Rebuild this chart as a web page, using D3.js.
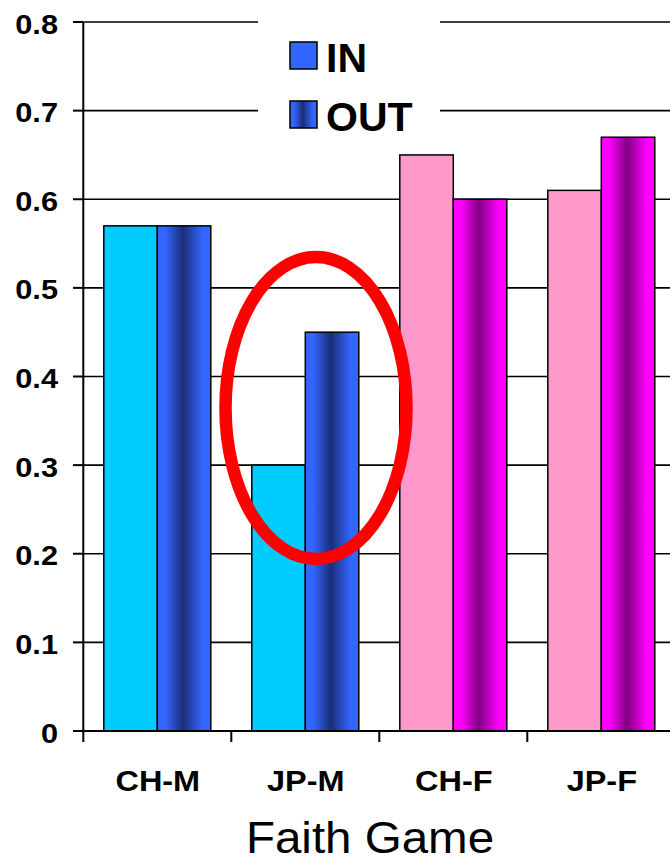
<!DOCTYPE html>
<html><head><meta charset="utf-8">
<script src="https://cdn.jsdelivr.net/npm/d3@7/dist/d3.min.js"></script>
<style>html,body{margin:0;padding:0;background:#fff;overflow:hidden}svg{display:block}</style>
</head><body>
<svg id="c" width="670" height="863"></svg>
<script>
const categories = ["CH-M", "JP-M", "CH-F", "JP-F"];
const seriesNames = ["IN", "OUT"];
const inValues = [0.57, 0.30, 0.65, 0.61];
const outValues = [0.57, 0.45, 0.60, 0.67];
const yTicks = [0, 0.1, 0.2, 0.3, 0.4, 0.5, 0.6, 0.7, 0.8];
const yTickLabels = ["0", "0.1", "0.2", "0.3", "0.4", "0.5", "0.6", "0.7", "0.8"];
const xTitle = "Faith Game";

const svg = d3.select("#c");
const font = "Liberation Sans, Arial, Helvetica, sans-serif";

const y = d3.scaleLinear().domain([0, 0.8]).range([731, 22]);
const x0 = d3.scaleBand().domain(categories).range([83.3, 675.3]).padding(0);
const x1 = d3.scaleBand().domain(seriesNames).range([20.5, 127.5]).padding(0);

const defs = svg.append("defs");
function grad(id, edge, mid) {
  const g = defs.append("linearGradient").attr("id", id).attr("x1", "0%").attr("x2", "100%").attr("y1", "0%").attr("y2", "0%");
  g.append("stop").attr("offset", "0%").attr("stop-color", edge);
  g.append("stop").attr("offset", "15%").attr("stop-color", edge);
  g.append("stop").attr("offset", "48%").attr("stop-color", mid);
  g.append("stop").attr("offset", "85%").attr("stop-color", edge);
  g.append("stop").attr("offset", "100%").attr("stop-color", edge);
}
grad("gBlue", "#3366ff", "#1a2d78");
grad("gMag", "#ff00ff", "#800080");

// gridlines
svg.append("g").selectAll("line").data(yTicks.slice(1)).join("line")
  .attr("x1", 83.3).attr("x2", 670).attr("y1", d => y(d)).attr("y2", d => y(d))
  .attr("stroke", "#000").attr("stroke-width", 1.6);

// bars
const isFemale = c => c.endsWith("F");
const rows = categories.map((c, i) => ({c, vals: [{s: "IN", v: inValues[i]}, {s: "OUT", v: outValues[i]}]}));
const gb = svg.append("g").selectAll("g").data(rows).join("g")
  .attr("transform", d => `translate(${x0(d.c)},0)`);
gb.selectAll("rect").data(d => d.vals.map(o => ({...o, c: d.c}))).join("rect")
  .attr("x", d => x1(d.s)).attr("width", x1.bandwidth())
  .attr("y", d => y(d.v)).attr("height", d => y(0) - y(d.v))
  .attr("fill", d => d.s === "IN" ? (isFemale(d.c) ? "#ff99cc" : "#00ccff") : (isFemale(d.c) ? "url(#gMag)" : "url(#gBlue)"))
  .attr("stroke", "#000").attr("stroke-width", 1.5);

// axes
svg.append("line").attr("x1", 83.3).attr("x2", 83.3).attr("y1", y(0.8)).attr("y2", 742)
  .attr("stroke", "#000").attr("stroke-width", 2);
svg.append("line").attr("x1", 73).attr("x2", 670).attr("y1", y(0)).attr("y2", y(0))
  .attr("stroke", "#000").attr("stroke-width", 2);
svg.append("g").selectAll("line").data(yTicks).join("line")
  .attr("x1", 73).attr("x2", 83.3).attr("y1", d => y(d)).attr("y2", d => y(d))
  .attr("stroke", "#000").attr("stroke-width", 2);
svg.append("g").selectAll("line").data(categories.slice(1)).join("line")
  .attr("x1", d => x0(d)).attr("x2", d => x0(d)).attr("y1", y(0)).attr("y2", 742)
  .attr("stroke", "#000").attr("stroke-width", 2);

function stretchedText(parent, tx, ty, txt, size, weight, anchor, sx) {
  parent.append("g").attr("transform", `translate(${tx},${ty}) scale(${sx},1)`)
    .append("text").attr("x", 0).attr("y", 0).attr("text-anchor", anchor)
    .attr("font-family", font).attr("font-size", size).attr("font-weight", weight)
    .attr("fill", "#000").text(txt);
}

// y tick labels
const yl = svg.append("g");
yTicks.forEach((t, i) => stretchedText(yl, 58, y(t) + 11.5, yTickLabels[i], 27, "bold", "end", 1.14));

// x labels
const xl = svg.append("g");
categories.forEach(c => stretchedText(xl, x0(c) + x0.bandwidth() / 2 + 0.5, 790.5, c, 29, "bold", "middle", 1.12));

// axis title
stretchedText(svg, 370, 853, xTitle, 44, "normal", "middle", 1.08);

// legend
const lg = svg.append("g");
lg.append("rect").attr("x", 258).attr("y", 12).attr("width", 182).attr("height", 133).attr("fill", "#fff");
const legendFill = {IN: "#3366ff", OUT: "url(#gBlue)"};
const legendY = {IN: 42, OUT: 101};
seriesNames.forEach(s => {
  lg.append("rect").attr("x", 290).attr("y", legendY[s]).attr("width", 27).attr("height", 27)
    .attr("fill", legendFill[s]).attr("stroke", "#000").attr("stroke-width", 1.5);
  stretchedText(lg, 326, legendY[s] + 29.5, s, 41, "bold", "start", 1.0);
});

// red ellipse highlight
svg.append("ellipse").attr("cx", 316).attr("cy", 408).attr("rx", 90.5).attr("ry", 151)
  .attr("fill", "none").attr("stroke", "#ff0000").attr("stroke-width", 12.5);
</script>
</body></html>
